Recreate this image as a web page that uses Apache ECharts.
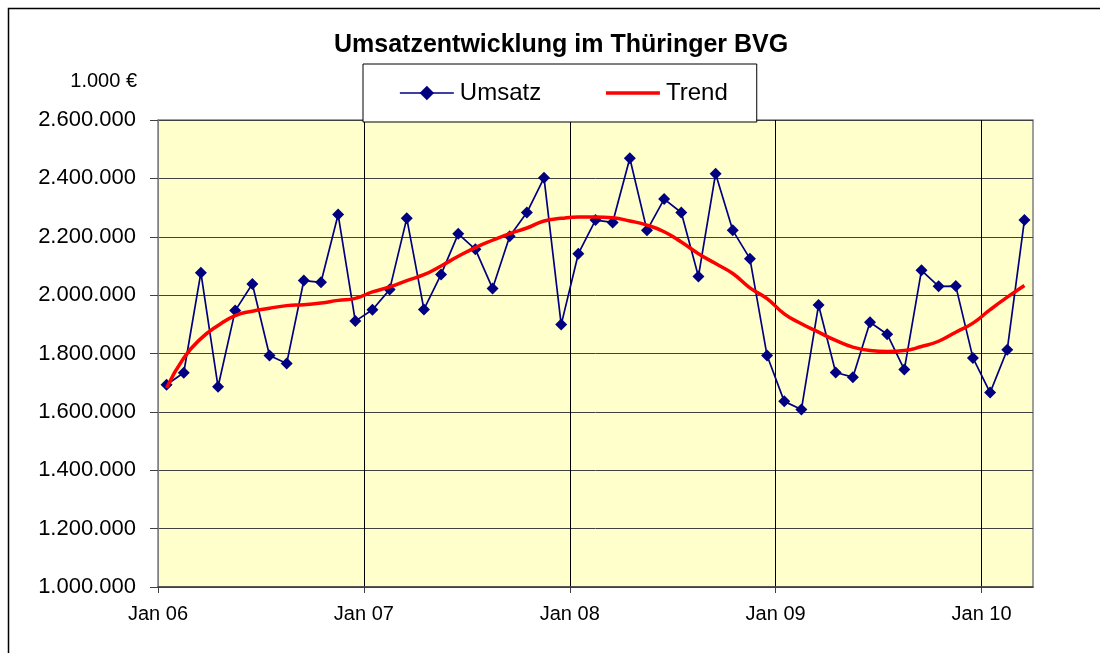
<!DOCTYPE html>
<html>
<head>
<meta charset="utf-8">
<title>Umsatzentwicklung im Thüringer BVG</title>
<script src="https://cdn.jsdelivr.net/npm/echarts@6/dist/echarts.min.js"></script>
<style>
	html, body { margin: 0; padding: 0; background: #fff; }
	#umsatz { width: 1100px; height: 653px; }
</style>
</head>
<body>
<div id="umsatz"></div>
<script>
// Monatswerte Jan 06 - Mar 10 (in 1.000 €)
var umsatz = [
	1693000, 1734000, 2077000, 1686000, 1947000, 2038000, 1793000, 1766000, 2050000, 2044000, 2276000, 1911000,
	1950000, 2019000, 2263000, 1951000, 2071000, 2210000, 2157000, 2023000, 2202000, 2283000, 2402000, 1899000,
	2142000, 2257000, 2249000, 2469000, 2222000, 2329000, 2283000, 2064000, 2416000, 2222000, 2125000, 1793000,
	1636000, 1608000, 1966000, 1735000, 1719000, 1907000, 1866000, 1745000, 2085000, 2030000, 2031000, 1785000,
	1666000, 1813000, 2257000
];
var trend = [
	1682000, 1785000, 1851000, 1896000, 1930000, 1945000, 1955000, 1964000, 1967000, 1973000, 1982000, 1989000,
	2011000, 2028000, 2050000, 2070000, 2100000, 2133000, 2163000, 2188000, 2211000, 2230000, 2254000, 2263000,
	2268000, 2268000, 2265000, 2254000, 2240000, 2217000, 2182000, 2142000, 2108000, 2074000, 2025000, 1988000,
	1936000, 1902000, 1873000, 1845000, 1822000, 1810000, 1807000, 1810000, 1824000, 1842000, 1873000, 1904000,
	1950000, 1993000, 2033000
];
var jahrLabels = ['Jan 06', 'Jan 07', 'Jan 08', 'Jan 09', 'Jan 10'];
var yMin = 1000000, yMax = 2600000, yStep = 200000;

var fontFam = '"Liberation Sans", Arial, sans-serif';

function tausender(v) {
	return String(v).replace(/\B(?=(\d{3})+(?!\d))/g, '.');
}

// monat i liegt in der Mitte seines Feldes
function punkte(arr) {
	var res = [];
	for (var i = 0; i < arr.length; i++) {
		res.push([i + 0.5, arr[i]]);
	}
	return res;
}

var jahrTicks = [];
for (var j = 0; j < jahrLabels.length; j++) {
	jahrTicks.push(j * 12);
}

var dom = document.getElementById('umsatz');
var myChart = echarts.init(dom, null, { renderer: 'canvas' });
var option = {
	animation: false,
	textStyle: { fontFamily: fontFam },
	title: {
		text: 'Umsatzentwicklung im Thüringer BVG',
		left: 329,
		top: 28,
		textStyle: { fontSize: 25, fontWeight: 'bold', color: '#000', fontFamily: fontFam }
	},
	legend: {
		left: 363,
		top: 64,
		padding: [17, 29, 17, 36],
		itemGap: 63,
		itemWidth: 54,
		itemHeight: 18,
		backgroundColor: '#fff',
		borderColor: '#000',
		borderWidth: 1,
		borderRadius: 0,
		textStyle: { fontSize: 24, color: '#000', fontFamily: fontFam, padding: [0, 0, 0, 1] },
		data: [
			{ name: 'Umsatz', lineStyle: { width: 1.7 } },
			{ name: 'Trend', itemStyle: { opacity: 0 }, lineStyle: { width: 3.5 } }
		],
		z: 10
	},
	graphic: [{
		type: 'rect',
		shape: { x: 8.5, y: 8.5, width: 1200, height: 1000 },
		style: { fill: 'none', stroke: '#000', lineWidth: 1.5 },
		silent: true
	}],
	grid: {
		left: 158,
		top: 120,
		right: 67,
		bottom: 66,
		show: true,
		backgroundColor: '#FFFFCC',
		borderColor: '#808080',
		borderWidth: 1.5
	},
	xAxis: {
		type: 'value',
		min: 0,
		max: umsatz.length,
		interval: 6,
		axisLine: { show: true, lineStyle: { color: '#404040', width: 1.5 } },
		axisTick: { show: true, customValues: jahrTicks, length: 6, lineStyle: { color: '#404040' } },
		axisLabel: {
			customValues: jahrTicks,
			margin: 17,
			fontSize: 20,
			color: '#000',
			formatter: function (v) {
				return jahrLabels[Math.round(v / 12)] || '';
			}
		},
		splitLine: { show: true, lineStyle: { color: '#000', width: 1 } }
	},
	yAxis: {
		type: 'value',
		min: yMin,
		max: yMax,
		interval: yStep,
		name: '1.000 €',
		nameLocation: 'end',
		nameGap: 39,
		nameTextStyle: { fontSize: 20, color: '#000', align: 'right', verticalAlign: 'middle', padding: [0, 21, 0, 0] },
		axisLine: { show: true, lineStyle: { color: '#808080', width: 1 } },
		axisTick: { show: true, length: 8, lineStyle: { color: '#404040' } },
		axisLabel: {
			margin: 22,
			fontSize: 22,
			color: '#000',
			formatter: tausender
		},
		splitLine: { show: true, lineStyle: { color: '#404040', width: 1 } }
	},
	series: [{
		name: 'Umsatz',
		type: 'line',
		data: punkte(umsatz),
		symbol: 'diamond',
		symbolSize: 12,
		itemStyle: { color: '#000080' },
		lineStyle: { color: '#000080', width: 1.7 },
		z: 3
	}, {
		name: 'Trend',
		type: 'line',
		data: punkte(trend),
		showSymbol: false,
		symbol: 'none',
		smooth: true,
		itemStyle: { color: '#FF0000' },
		lineStyle: { color: '#FF0000', width: 3.5 },
		z: 4
	}]
};
if (option && typeof option === 'object') {
	myChart.setOption(option, true);
}
</script>
</body>
</html>
